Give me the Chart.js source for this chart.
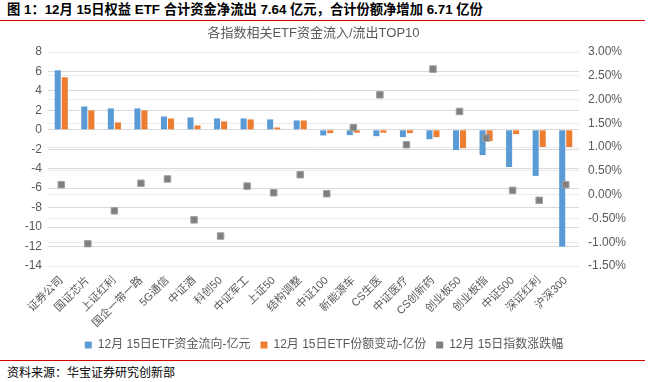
<!DOCTYPE html>
<html>
<head>
<meta charset="utf-8">
<script src="https://cdn.jsdelivr.net/npm/chart.js@4.4.0/dist/chart.umd.min.js"></script>
<style>
  html, body { margin: 0; padding: 0; background: #ffffff; }
  body { width: 648px; height: 382px; position: relative; overflow: hidden;
         font-family: "Liberation Sans", "Noto Sans CJK SC", sans-serif; }
  #pageTitle { position: absolute; left: 7px; top: 2px; font-size: 13.3px; font-weight: bold; color: #000; white-space: nowrap; line-height: 16px; }
  #topRule { position: absolute; left: 0; top: 20px; width: 645px; height: 1px; background: #d40000; }
  #bottomRule { position: absolute; left: 0; top: 360px; width: 645px; height: 1px; background: #d40000; }
  #source { position: absolute; left: 7px; top: 365px; font-size: 12px; color: #000; white-space: nowrap; line-height: 16px; }
  #wrap { position: absolute; left: 0; top: 24px; width: 648px; height: 337px; }
</style>
</head>
<body>
<div id="pageTitle">图 1：12月 15日权益 ETF 合计资金净流出 7.64 亿元，合计份额净增加 6.71 亿份</div>
<div id="topRule"></div>
<div id="wrap"><canvas id="c" width="648" height="337"></canvas></div>
<div id="bottomRule"></div>
<div id="source">资料来源：华宝证券研究创新部</div>
<script>
const chartTitle = '各指数相关ETF资金流入/流出TOP10';
const categories = ['证券公司','国证芯片','上证红利','国企一带一路','5G通信','中证酒','科创50','中证军工','上证50','结构调整','中证100','新能源车','CS生医','中证医疗','CS创新药','创业板50','创业板指','中证500','深证红利','沪深300'];
const flowLabel = '12月 15日ETF资金流向-亿元';
const shareLabel = '12月 15日ETF份额变动-亿份';
const changeLabel = '12月 15日指数涨跌幅';
const flowValues = [6.12, 2.4, 2.2, 2.2, 1.37, 1.27, 1.17, 1.17, 1.07, 0.96, -0.58, -0.55, -0.65, -0.75, -0.96, -2.08, -2.6, -3.82, -4.74, -12.0];
const shareValues = [5.4, 2.0, 0.76, 2.0, 1.17, 0.45, 0.86, 1.07, 0.24, 0.96, -0.34, -0.3, -0.3, -0.34, -0.75, -1.88, -1.16, -0.44, -1.77, -1.77];
const changeValues = [0.21, -1.03, -0.34, 0.24, 0.33, -0.53, -0.87, 0.18, 0.04, 0.42, 0.02, 1.41, 2.10, 1.05, 2.64, 1.75, 1.19, 0.09, -0.12, 0.21];

const BLUE = '#5b9bd5', ORANGE = '#ed7d31', GRAY = '#7f7f7f';
const TXT = '#595959';
const FONT = '"Liberation Sans", "Noto Sans CJK SC", sans-serif';

new Chart(document.getElementById('c'), {
  data: {
    labels: categories,
    datasets: [
      { type: 'line', label: changeLabel, data: changeValues, yAxisID: 'y1', showLine: false,
        pointStyle: 'rect', pointRadius: 4.6, pointHoverRadius: 4.6,
        backgroundColor: GRAY, borderColor: '#a0a0a0', pointBorderWidth: 1, order: 0 },
      { type: 'bar', label: flowLabel, data: flowValues, yAxisID: 'y', backgroundColor: BLUE,
        borderWidth: 0, barPercentage: 0.86, categoryPercentage: 0.53, order: 1 },
      { type: 'bar', label: shareLabel, data: shareValues, yAxisID: 'y', backgroundColor: ORANGE,
        borderWidth: 0, barPercentage: 0.86, categoryPercentage: 0.53, order: 2 }
    ]
  },
  options: {
    responsive: false,
    animation: false,
    devicePixelRatio: 1,
    layout: { padding: 0 },
    plugins: {
      tooltip: { enabled: false },
      title: { display: true, text: chartTitle, fullSize: false, color: TXT,
               font: { family: FONT, size: 13, weight: 'normal' }, padding: { top: 1.2, bottom: 11.2 } },
      legend: {
        position: 'bottom',
        labels: {
          color: TXT, font: { family: FONT, size: 12 }, boxWidth: 7, boxHeight: 7, padding: 10,
          generateLabels: (chart) => {
            const order = [1, 2, 0];
            const cols = [GRAY, BLUE, ORANGE];
            return order.map(i => ({
              text: chart.data.datasets[i].label, fillStyle: cols[i], strokeStyle: cols[i],
              lineWidth: 0, datasetIndex: i, hidden: false, fontColor: TXT
            }));
          }
        }
      }
    },
    scales: {
      x: {
        grid: { display: false },
        border: { display: false },
        ticks: { color: TXT, font: { family: FONT, size: 11 }, minRotation: 45, maxRotation: 45,
                 autoSkip: false, padding: 0 },
        afterFit: (s) => { s.height = 63; }
      },
      y: {
        position: 'left', min: -14, max: 8,
        grid: { color: '#d9d9d9', drawTicks: false, lineWidth: 1 },
        border: { display: false },
        ticks: { stepSize: 2, color: TXT, font: { family: FONT, size: 12 }, padding: 6 },
        afterFit: (s) => { s.width = 48; }
      },
      y1: {
        position: 'right', min: -1.5, max: 3,
        grid: { color: '#ebebeb', drawTicks: false, lineWidth: 1 },
        border: { display: false },
        ticks: { stepSize: 0.5, color: TXT, font: { family: FONT, size: 12 }, padding: 9,
                 callback: (v) => Number(v).toFixed(2) + '%' },
        afterFit: (s) => { s.width = 69; }
      }
    }
  }
});
</script>
</body>
</html>
